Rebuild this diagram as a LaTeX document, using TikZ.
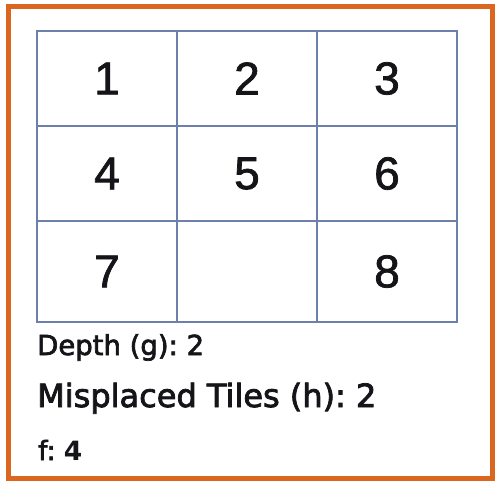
\documentclass[tikz,border=0pt]{standalone}
\usepackage{fontspec}
\setmainfont{DejaVu Sans}[FakeBold=2.5]
\newfontfamily\heavy{DejaVu Sans}
\newfontfamily\digitfont{Liberation Sans}[FakeBold=1.6]
\definecolor{frameorange}{RGB}{218,102,32}
\definecolor{gridblue}{RGB}{108,128,172}
\definecolor{txt}{RGB}{20,20,25}
\frenchspacing
\tikzset{
  cell/.style={draw=gridblue, line width=2.7pt, rectangle, inner sep=0pt,
    minimum width=140pt, font=\digitfont\fontsize{46}{46}\selectfont, text=txt},
  rowA/.style={minimum height=95pt},
  rowB/.style={minimum height=95pt},
  rowC/.style={minimum height=101pt},
  info/.style={anchor=base west, inner sep=0pt, text=txt},
}
\begin{document}
\begin{tikzpicture}[x=1pt,y=-1pt]
\useasboundingbox (0,0) rectangle (500,487);
\fill[white] (0,0) rectangle (500,487);
\node[draw=frameorange, line width=5pt, rectangle, inner sep=0pt,
  minimum width=484pt, minimum height=471pt] (frame) at (250,242.5) {};
% row 1
\node[cell,rowA] (c11) at (107,78.5) {1};
\node[cell,rowA] (c12) at (247,78.5) {2};
\node[cell,rowA] (c13) at (387,78.5) {3};
% row 2
\node[cell,rowB] (c21) at (107,173.5) {4};
\node[cell,rowB] (c22) at (247,173.5) {5};
\node[cell,rowB] (c23) at (387,173.5) {6};
% row 3
\node[cell,rowC] (c31) at (107,271.5) {7};
\node[cell,rowC] (c32) at (247,271.5) {};
\node[cell,rowC] (c33) at (387,271.5) {8};
% info
\node[info, font=\fontsize{27.5}{27.5}\selectfont] (depth) at (37,355) {Depth (g): 2};
\node[info, font=\fontsize{32}{32}\selectfont] (mis) at (37,407) {Misplaced Tiles (h): 2};
\node[info, font=\fontsize{26.5}{26.5}\selectfont] (f) at (38,460) {f: {\heavy\bfseries 4}};
\end{tikzpicture}
\end{document}
